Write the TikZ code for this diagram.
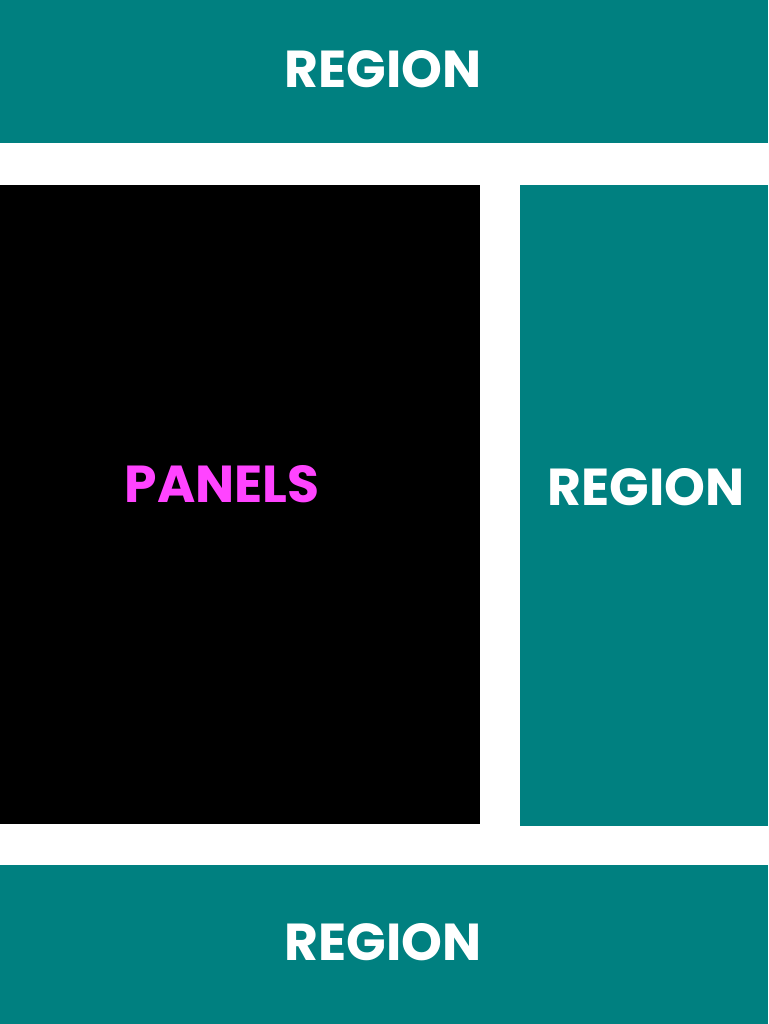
\documentclass[tikz,border=0pt]{standalone}
\usepackage{fontspec}
\setmainfont{Poppins}
\definecolor{tealreg}{HTML}{008080}
\definecolor{panelpink}{HTML}{FF44FF}
\begin{document}
\begin{tikzpicture}[x=1pt,y=-1pt,
  regionbox/.style={fill=tealreg},
  panelbox/.style={fill=black},
  lbl/.style={font=\fontsize{52}{52}\selectfont\bfseries, inner sep=0pt, anchor=base},
  regionlbl/.style={lbl, text=white},
  panellbl/.style={lbl, text=panelpink}]
\useasboundingbox[fill=white] (0,0) rectangle (768,1024);
\fill[regionbox] (0,0) rectangle (768,143);
\fill[panelbox] (0,185) rectangle (480,824);
\fill[regionbox] (520,185) rectangle (768,826);
\fill[regionbox] (0,865) rectangle (768,1024);
\node[regionlbl] (top) at (383,88) {REGION};
\node[panellbl] (panels) at (222,502) {PANELS};
\node[regionlbl] (right) at (646,505) {REGION};
\node[regionlbl] (bottom) at (383,960) {REGION};
\end{tikzpicture}
\end{document}
